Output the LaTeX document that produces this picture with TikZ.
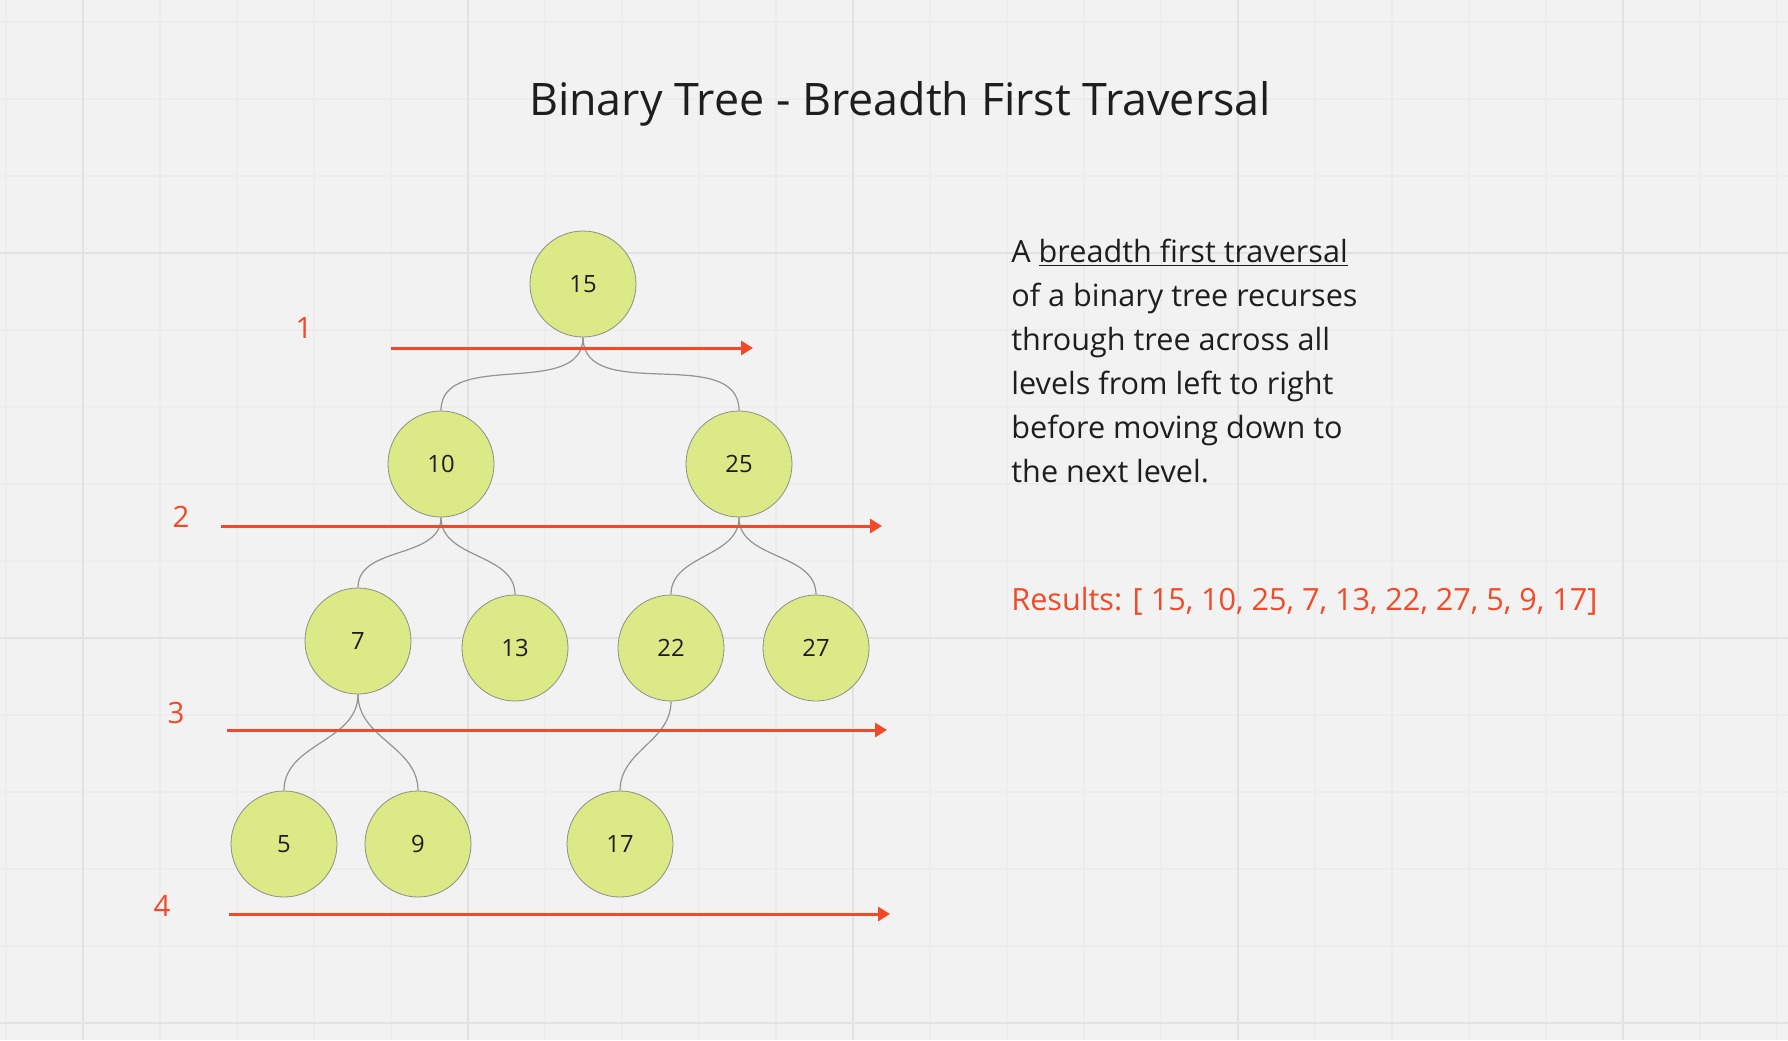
\documentclass[tikz,border=0pt]{standalone}
\usepackage{fontspec}
\setmainfont{Open Sans}
\usetikzlibrary{arrows.meta,positioning}

\definecolor{bgpaper}{HTML}{F2F2F2}
\definecolor{gridminor}{HTML}{EDEDED}
\definecolor{gridmajor}{HTML}{E2E2E2}
\definecolor{leaf}{HTML}{DCE987}
\definecolor{rim}{HTML}{8E8E84}
\definecolor{wire}{HTML}{939393}
\definecolor{levelred}{HTML}{F24A28}
\definecolor{ink}{HTML}{1E1E1E}

\tikzset{
  treenode/.style={circle,draw=rim,fill=leaf,line width=0.4pt,minimum size=53pt,
    inner sep=0pt,text=ink,font=\fontsize{11.9}{14}\selectfont},
  edge/.style={draw=wire,line width=0.6pt},
  levelline/.style={draw=levelred,line width=1.5pt,->},
  levelnum/.style={text=levelred,font=\fontsize{14.7}{18}\selectfont},
}

\begin{document}
\begin{tikzpicture}[x=0.5pt,y=-0.5pt,>={Triangle[length=6pt,width=7pt]}]
    \fill[bgpaper] (0,0) rectangle (1788,1040);
    \useasboundingbox (0,0) rectangle (1788,1040);

    % board grid
    \foreach \gx in {6,83,...,1788}
      \draw[gridminor,line width=0.7pt] (\gx,0) -- (\gx,1040);
    \foreach \gy in {22,99,...,1040}
      \draw[gridminor,line width=0.7pt] (0,\gy) -- (1788,\gy);
    \foreach \gx in {83,468,...,1788}
      \draw[gridmajor,line width=1pt] (\gx,0) -- (\gx,1040);
    \foreach \gy in {253,638,1023}
      \draw[gridmajor,line width=1pt] (0,\gy) -- (1788,\gy);

    \node[anchor=base,text=ink,font=\fontsize{22.4}{27}\selectfont] (title) at (900,115)
      {Binary Tree - Breadth First Traversal};

    % tree
    \node[treenode] (N15) at (583,284) {15};
    \node[treenode] (N10) at (441,464) {10};
    \node[treenode] (N25) at (739,464) {25};
    \node[treenode] (N7) at (358,641) {7};
    \node[treenode] (N13) at (515,648) {13};
    \node[treenode] (N22) at (671,648) {22};
    \node[treenode] (N27) at (816,648) {27};
    \node[treenode] (N5) at (284,844) {5};
    \node[treenode] (N9) at (418,844) {9};
    \node[treenode] (N17) at (620,844) {17};

    \foreach \p/\c in {N15/N10,N15/N25,N10/N7,N10/N13,N25/N22,N25/N27,N7/N5,N7/N9,N22/N17}
      \draw[edge] (\p.south) to[out=-90,in=90] (\c.north);

    % levels
    \coordinate (L1a) at (391,348);
    \coordinate (L1b) at (753,348);
    \coordinate (L2a) at (221,526);
    \coordinate (L2b) at (882,526);
    \coordinate (L3a) at (227,730);
    \coordinate (L3b) at (887,730);
    \coordinate (L4a) at (229,914);
    \coordinate (L4b) at (890,914);
    \draw[levelline] (L1a) -- (L1b);
    \draw[levelline] (L2a) -- (L2b);
    \draw[levelline] (L3a) -- (L3b);
    \draw[levelline] (L4a) -- (L4b);

    \node[levelnum] (num1) at (304,328) {1};
    \node[levelnum] (num2) at (181,517) {2};
    \node[levelnum] (num3) at (176,713) {3};
    \node[levelnum] (num4) at (162,906) {4};

    % notes (base is the last line)
    \node[anchor=base west,align=left,inner sep=0pt,text=ink,
      font=\fontsize{15.3}{22}\selectfont] (desc) at (1011,482)
      {A \underline{breadth first traversal}\\of a binary tree recurses\\through tree across all\\levels from left to right\\before moving down to\\the next level.};
    \node[anchor=base west,inner sep=0pt,text=levelred,
      font=\fontsize{15.3}{22}\selectfont] (results) at (1011,610)
      {Results: [ 15, 10, 25, 7, 13, 22, 27, 5, 9, 17]};
  \end{tikzpicture}
\end{document}
